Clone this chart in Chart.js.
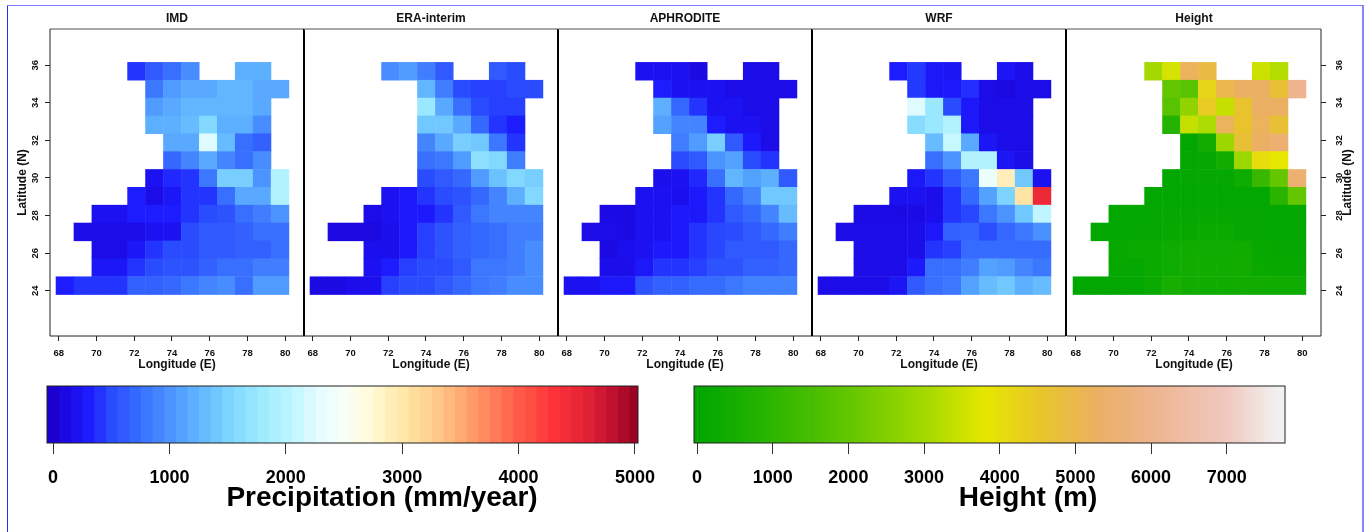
<!DOCTYPE html>
<html><head><meta charset="utf-8">
<style>
html,body{margin:0;padding:0;background:#fff;width:1369px;height:532px;overflow:hidden}
canvas{position:absolute;display:block;filter:blur(0.35px)}
.edge{position:absolute}
</style>
<script src="https://cdn.jsdelivr.net/npm/chart.js@4"></script>
</head><body>
<div class="edge" style="left:7px;top:5px;width:1357px;height:1px;background:#7a7aff"></div>
<div class="edge" style="left:7px;top:6px;width:1px;height:526px;background:#2a2aff"></div>
<div class="edge" style="left:1362px;top:6px;width:2px;height:526px;background:#8585ff"></div>
<script>
const _ = null;
const longitudes = [68.33,69.28,70.23,71.18,72.12,73.07,74.02,74.97,75.92,76.87,77.82,78.77,79.72];
const latitudes = [35.68,34.73,33.78,32.83,31.88,30.93,29.98,29.03,28.08,27.13,26.18,25.23,24.27];
const xTickValues = [68,70,72,74,76,78,80];
const yTickValues = [24,26,28,30,32,34,36];
const precipTicks = [0,1000,2000,3000,4000,5000];
const heightTicks = [0,1000,2000,3000,4000,5000,6000,7000];

const imdValues = [
[_,_,_,_,400,600,750,950,_,_,1200,1200,_],
[_,_,_,_,_,800,1050,1150,1150,1250,1250,1150,1150],
[_,_,_,_,_,1050,1150,1250,1250,1250,1250,1150,_],
[_,_,_,_,_,1200,1200,1300,1550,1200,1200,950,_],
[_,_,_,_,_,_,1150,1150,2250,1300,750,650,_],
[_,_,_,_,_,_,700,900,1150,900,750,950,_],
[_,_,_,_,_,200,350,400,800,1450,1450,1000,1950],
[_,_,_,_,300,150,250,400,400,750,1150,1150,1950],
[_,_,200,200,300,300,300,400,500,550,750,850,1000],
[_,150,150,150,150,200,200,500,600,600,650,750,750],
[_,_,150,150,250,400,500,500,600,600,650,650,750],
[_,_,250,250,400,500,550,550,650,750,750,850,850],
[300,400,400,400,650,650,700,800,900,950,750,1050,1050]];
const eraValues = [
[_,_,_,_,950,1050,850,600,_,_,600,500,_],
[_,_,_,_,_,_,1250,850,500,450,450,500,500],
[_,_,_,_,_,_,1750,1150,750,500,450,450,_],
[_,_,_,_,_,_,1400,1400,1150,700,400,300,_],
[_,_,_,_,_,_,900,1150,1450,1400,800,400,_],
[_,_,_,_,_,_,750,800,1050,1650,1550,850,_],
[_,_,_,_,_,_,500,600,700,1050,1350,1550,1450],
[_,_,_,_,200,280,400,500,550,700,900,1200,1550],
[_,_,_,150,200,280,280,400,600,800,900,900,900],
[_,100,100,100,180,280,450,550,650,700,750,850,850],
[_,_,_,180,180,280,450,550,650,700,750,850,950],
[_,_,_,200,300,450,500,500,600,800,800,850,950],
[120,120,160,180,450,500,500,600,700,800,850,950,950]];
const aphroditeValues = [
[_,_,_,_,200,200,200,120,_,_,150,150,_],
[_,_,_,_,_,300,200,200,200,150,150,150,150],
[_,_,_,_,_,1200,700,400,200,220,150,150,_],
[_,_,_,_,_,1100,900,900,300,200,200,150,_],
[_,_,_,_,_,_,850,1050,1450,600,280,150,_],
[_,_,_,_,_,_,500,600,1000,1100,500,400,_],
[_,_,_,_,_,180,200,350,750,1250,1100,1200,600],
[_,_,_,_,200,200,180,280,400,700,900,1400,1400],
[_,_,130,130,200,200,260,260,400,600,700,900,1300],
[_,150,150,130,200,200,260,400,480,500,600,700,850],
[_,_,120,180,200,280,280,400,480,600,600,600,700],
[_,_,170,170,260,400,400,450,550,550,650,650,700],
[200,200,260,260,550,650,650,720,720,800,880,880,880]];
const wrfValues = [
[_,_,_,_,300,420,260,230,_,_,230,170,_],
[_,_,_,_,_,420,260,260,380,150,100,150,150],
[_,_,_,_,_,2250,1750,500,260,150,150,150,_],
[_,_,_,_,_,1600,1750,1950,260,150,150,150,_],
[_,_,_,_,_,_,1300,2100,1150,230,170,150,_],
[_,_,_,_,_,_,750,1000,1950,1950,230,150,_],
[_,_,_,_,_,260,400,600,800,2350,2900,1400,200],
[_,_,_,_,200,200,170,400,700,1100,1500,3050,4450],
[_,_,140,140,130,130,180,400,480,800,1000,1400,2050],
[_,150,150,150,150,170,260,650,680,520,700,800,980],
[_,_,150,150,150,170,400,450,720,720,720,720,720],
[_,_,150,150,150,270,750,750,850,1100,1050,900,800],
[150,150,150,150,230,600,750,800,1100,1300,1400,1200,1300]];
const heightValues = [
[_,_,_,_,3000,3600,5200,4900,_,_,3500,3200,_],
[_,_,_,_,_,2000,1800,4200,5000,5300,5300,4700,6000],
[_,_,_,_,_,1800,2700,4400,3400,4600,5300,5300,_],
[_,_,_,_,_,800,3400,3100,5200,4600,5200,4700,_],
[_,_,_,_,_,_,80,400,2900,4700,5300,5500,_],
[_,_,_,_,_,_,80,80,400,2900,4000,3800,_],
[_,_,_,_,_,50,100,100,100,300,1200,2000,5500],
[_,_,_,_,50,50,50,50,50,50,50,900,2000],
[_,_,50,50,100,100,100,100,100,100,100,50,50],
[_,50,50,80,80,150,150,250,250,100,100,50,50],
[_,_,150,250,250,300,350,300,300,350,150,100,100],
[_,_,100,100,200,300,400,350,350,400,200,150,150],
[50,50,50,50,200,500,350,350,350,400,350,350,300]];

const precipStops = [[-50,'#1e00c8'],[0,'#1d00cf'],[150,'#1c0ce8'],[300,'#1c1cff'],[500,'#2a4cff'],[700,'#3568ff'],[1000,'#4b94ff'],[1200,'#5cb0ff'],[1500,'#7cd4ff'],[1800,'#a0ecff'],[2000,'#b8f4ff'],[2300,'#e6fcff'],[2500,'#f8fff6'],[2700,'#fffbdc'],[3000,'#ffe8a8'],[3300,'#ffc888'],[3600,'#ff9a68'],[3800,'#ff7a58'],[4000,'#ff5a48'],[4300,'#fc3238'],[4600,'#e02035'],[4800,'#c01030'],[5050,'#900020']];
const heightStops = [[0,'#00a600'],[1000,'#2db600'],[2000,'#63c600'],[3000,'#a3d900'],[3800,'#e6e600'],[4600,'#e8c32e'],[5300,'#ebb064'],[6000,'#edb48e'],[7000,'#f0c9c0'],[7700,'#f2f2f2']];

function hex(c){return [1,3,5].map(i=>parseInt(c.substr(i,2),16));}
function ramp(stops,v){
  if(v<=stops[0][0])return stops[0][1];
  for(let i=1;i<stops.length;i++){
    if(v<=stops[i][0]){
      const t=(v-stops[i-1][0])/(stops[i][0]-stops[i-1][0]);
      const a=hex(stops[i-1][1]),b=hex(stops[i][1]);
      return 'rgb('+a.map((x,k)=>Math.round(x+(b[k]-x)*t)).join(',')+')';
    }
  }
  return stops[stops.length-1][1];
}
const FONT='"Liberation Sans",Arial,sans-serif', INK='#111';
Chart.defaults.font.family=FONT;
Chart.defaults.color=INK;
Chart.defaults.animation=false;
Chart.defaults.responsive=false;
Chart.defaults.devicePixelRatio=1;

function addCanvas(l,t,w,h){
  const c=document.createElement('canvas');
  c.width=w;c.height=h;c.style.cssText=`left:${l}px;top:${t}px;width:${w}px;height:${h}px`;
  document.body.appendChild(c);return c.getContext('2d');
}
const frame=(sides)=>({id:'frame',afterDatasetsDraw(ch){
  const {ctx,chartArea:a}=ch;ctx.save();
  const line=(x1,y1,x2,y2,col,w)=>{ctx.beginPath();ctx.strokeStyle=col;ctx.lineWidth=w;ctx.moveTo(x1,y1);ctx.lineTo(x2,y2);ctx.stroke();};
  line(a.left,a.top,a.right,a.top,'#8a8a8a',1.5);
  line(a.left,a.bottom,a.right,a.bottom,'#222',1);
  if(sides.left)line(a.left,a.top,a.left,a.bottom,sides.left[0],sides.left[1]);
  if(sides.right)line(a.right,a.top,a.right,a.bottom,sides.right[0],sides.right[1]);
  ctx.restore();
}});
const rightTitle={id:'rightTitle',afterDraw(ch){
  const {ctx,chartArea:a}=ch;ctx.save();
  ctx.font='bold 12px '+FONT;ctx.fillStyle=INK;ctx.textAlign='center';ctx.textBaseline='middle';
  ctx.translate(1348-1067,(a.top+a.bottom)/2);ctx.rotate(-Math.PI/2);ctx.fillText('Latitude (N)',0,0);ctx.restore();
}};

const panels=[
 {title:'IMD',values:imdValues,stops:precipStops,left:50,axis:'left',sides:{left:['#222',1],right:['#000',2]}},
 {title:'ERA-interim',values:eraValues,stops:precipStops,left:304,axis:null,sides:{right:['#000',2]}},
 {title:'APHRODITE',values:aphroditeValues,stops:precipStops,left:558,axis:null,sides:{right:['#000',2]}},
 {title:'WRF',values:wrfValues,stops:precipStops,left:812,axis:null,sides:{right:['#000',2]}},
 {title:'Height',values:heightValues,stops:heightStops,left:1067,axis:'right',sides:{right:['#222',1]}}
];
const PW=254, CELL_W=0.949;
panels.forEach(p=>{
  const gutterL=p.axis==='left'?p.left:0, gutterR=p.axis==='right'?1369-p.left-PW:0;
  const ctx=addCanvas(p.left-gutterL,0,gutterL+PW+gutterR+(p.axis==='right'?0:2),385);
  const pts=[],cols=[];
  p.values.forEach((row,r)=>row.forEach((v,c)=>{ if(v!==null){pts.push({x:longitudes[c],y:latitudes[r]});cols.push(ramp(p.stops,v));} }));
  const yScale={type:'linear',min:21.59,max:37.93,position:p.axis||'left',display:!!p.axis,
    afterBuildTicks:s=>{s.ticks=yTickValues.map(v=>({value:v}));},
    afterFit:s=>{s.width=p.axis==='left'?gutterL:gutterR;s.paddingTop=0;s.paddingBottom=0;},
    grid:{drawOnChartArea:false,drawTicks:true,tickLength:5,color:'#222'},border:{display:false},
    ticks:{minRotation:90,maxRotation:90,crossAlign:'center',padding:p.axis==='right'?8:4,font:{size:9.5,weight:'bold'},color:INK},
    title:{display:p.axis==='left',text:'Latitude (N)',font:{size:12,weight:'bold'},color:INK,padding:{top:15,bottom:0}}
  };
  new Chart(ctx,{type:'scatter',
    data:{datasets:[{data:pts,showLine:false,pointStyle:'rect',pointBackgroundColor:cols,pointBorderWidth:0,pointHoverRadius:0,
      pointRadius:c=>{const s=c.chart.scales.x;return (s.getPixelForValue(68+CELL_W)-s.getPixelForValue(68)+0.5)/Math.SQRT2;}}]},
    options:{
      layout:{padding:{left:0,right:p.axis==='right'?0:2,top:0,bottom:0}},
      plugins:{legend:{display:false},tooltip:{enabled:false},
        title:{display:true,fullSize:false,text:p.title,color:INK,font:{size:12,weight:'bold'},padding:{top:11.6,bottom:3}}},
      scales:{
        x:{type:'linear',min:67.54,max:80.99,
          afterBuildTicks:s=>{s.ticks=xTickValues.map(v=>({value:v}));},
          afterFit:s=>{s.height=49;s.paddingLeft=0;s.paddingRight=0;},
          grid:{drawOnChartArea:false,drawTicks:true,tickLength:5,color:'#222'},border:{display:false},
          ticks:{maxRotation:0,minRotation:0,padding:7,autoSkip:false,font:{size:9.5,weight:'bold'},color:INK},
          title:{display:true,text:'Longitude (E)',font:{size:12,weight:'bold'},color:INK,padding:{top:0,bottom:13.5}}},
        y:yScale
      }
    },
    plugins:p.axis==='right'?[frame(p.sides),rightTitle]:[frame(p.sides)]
  });
});

function colorbar(o){
  const ctx=addCanvas(o.canvasLeft,380,o.canvasWidth,150);
  const ds=o.levels.map(v=>({data:[[v-o.half,v+o.half+o.extra]],backgroundColor:ramp(o.stops,v),borderWidth:0,barPercentage:1,categoryPercentage:1,grouped:false}));
  new Chart(ctx,{type:'bar',data:{labels:[''],datasets:ds},
    options:{indexAxis:'y',
      layout:{padding:{left:o.left-o.canvasLeft,right:o.canvasLeft+o.canvasWidth-o.right,top:6,bottom:0}},
      plugins:{legend:{display:false},tooltip:{enabled:false}},
      scales:{
        y:{display:false,type:'category'},
        x:{type:'linear',min:o.min,max:o.max,
          afterBuildTicks:s=>{s.ticks=o.ticks.map(v=>({value:v}));},
          afterFit:s=>{s.height=87;s.paddingLeft=0;s.paddingRight=0;},
          grid:{drawOnChartArea:false,drawTicks:true,tickLength:11,color:'#333',lineWidth:1},border:{display:false},
          ticks:{maxRotation:0,minRotation:0,padding:13,autoSkip:false,callback:v=>String(v),font:{size:18,weight:'bold'},color:'#000'}}
      }},
    plugins:[{id:'barFrame',afterDatasetsDraw(ch){const {ctx,chartArea:a}=ch;ctx.save();ctx.strokeStyle='#222';ctx.lineWidth=1;ctx.strokeRect(a.left,a.top,a.right-a.left,a.bottom-a.top);ctx.restore();}},
      {id:'barTitle',afterDraw(ch){const c=ch.ctx;c.save();c.font='bold 28px '+FONT;c.fillStyle='#000';c.textAlign='center';c.textBaseline='middle';c.fillText(o.title,o.titleX-o.canvasLeft,118);c.restore();}}]
  });
}
const precipLevels=[];for(let v=0;v<=5000;v+=100)precipLevels.push(v);
const heightLevels=[];for(let v=-25;v<=7775;v+=50)heightLevels.push(v);
colorbar({title:'Precipitation (mm/year)',titleX:382,stops:precipStops,levels:precipLevels,half:50,extra:2,ticks:precipTicks,min:-52,max:5026,left:47,right:638,canvasLeft:8,canvasWidth:670});
colorbar({title:'Height (m)',titleX:1028,stops:heightStops,levels:heightLevels,half:25,extra:3,ticks:heightTicks,min:-40,max:7770,left:694,right:1285,canvasLeft:680,canvasWidth:660});
</script>
</body></html>
